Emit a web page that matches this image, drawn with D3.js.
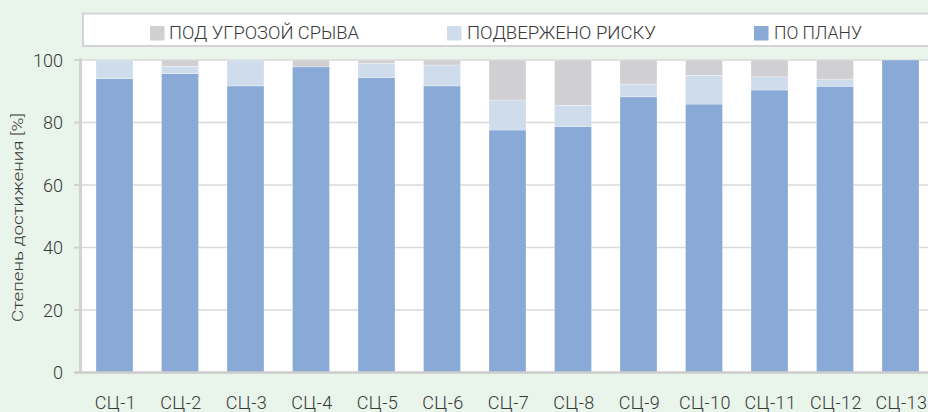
<!DOCTYPE html>
<html><head><meta charset="utf-8">
<script src="https://cdn.jsdelivr.net/npm/d3@7"></script>
<style>html,body{margin:0;padding:0;background:#e9f4ea;}svg{display:block;}text{font-family:Roboto,"Noto Sans",sans-serif;font-weight:300;fill:#383838;}</style>
</head><body><svg id="c" width="928" height="412"></svg>
<script>
const categories = ["СЦ-1","СЦ-2","СЦ-3","СЦ-4","СЦ-5","СЦ-6","СЦ-7","СЦ-8","СЦ-9","СЦ-10","СЦ-11","СЦ-12","СЦ-13"];
const planValues   = [94, 95.6, 91.7, 97.8, 94.4, 91.7, 77.6, 78.7, 88.2, 85.9, 90.4, 91.6, 100];
const riskValues   = [6, 2.4, 8.3, 0, 4.6, 6.7, 9.6, 6.8, 4.1, 9.2, 4.2, 2.3, 0];
const threatValues = [0, 2, 0, 2.2, 1, 1.6, 12.8, 14.5, 7.7, 4.9, 5.4, 6.1, 0];
const yTicks = [0, 20, 40, 60, 80, 100];
const seriesNames = {threat: "ПОД УГРОЗОЙ СРЫВА", risk: "ПОДВЕРЖЕНО РИСКУ", plan: "ПО ПЛАНУ"};
const yTitle = "Степень достижения [%]";

const colors = {plan: "#89aad6", risk: "#cfdcec", threat: "#d0d0d2"};
const svg = d3.select("#c");
const W = 928, H = 412;
svg.append("rect").attr("width", W).attr("height", H).attr("fill", "#e9f4ea");

const x = d3.scaleBand().domain(categories).range([81.75, 933.25]).paddingInner(0.435).paddingOuter(0.2175);
const y = d3.scaleLinear().domain([0, 100]).range([372.5, 60]);

// plot area
svg.append("rect").attr("x", 82).attr("y", y(100)).attr("width", W - 82).attr("height", y(0) - y(100)).attr("fill", "#fff");

// grid
svg.append("g").selectAll("line").data(yTicks.filter(d => d > 0)).join("line")
  .attr("x1", 75).attr("x2", W).attr("y1", d => y(d)).attr("y2", d => y(d))
  .attr("stroke", "#d9d9d9").attr("stroke-width", 1.5);

// bars
const rows = categories.map((c, i) => ({cat: c, plan: planValues[i], risk: riskValues[i], threat: threatValues[i]}));
const stack = d3.stack().keys(["plan", "risk", "threat"])(rows);
svg.append("g").selectAll("g").data(stack).join("g").attr("fill", s => colors[s.key])
  .selectAll("rect").data(s => s.filter(d => d[1] - d[0] > 0)).join("rect")
  .attr("x", d => x(d.data.cat)).attr("width", x.bandwidth())
  .attr("y", d => y(d[1])).attr("height", d => y(d[0]) - y(d[1]))
  .attr("stroke", "#ffffff").attr("stroke-width", 0.4).attr("stroke-opacity", 0.7);

// axes lines
svg.append("line").attr("x1", 80.5).attr("x2", 80.5).attr("y1", y(100) - 2).attr("y2", y(0) + 1)
  .attr("stroke", "#d2d2d2").attr("stroke-width", 3);
svg.append("line").attr("x1", 74).attr("x2", W).attr("y1", y(0)).attr("y2", y(0))
  .attr("stroke", "#cdcdcd").attr("stroke-width", 2.5);

// y axis ticks
const yAxis = d3.axisLeft(y).tickValues(yTicks).tickSize(0).tickPadding(0).tickFormat(d3.format("d"));
const ga = svg.append("g").attr("transform", "translate(63,0)").call(yAxis);
ga.select(".domain").remove();
ga.selectAll("text").attr("font-size", 18).attr("font-family", "Roboto").attr("fill", "#383838").attr("dy", "0.34em");
svg.append("g").selectAll("line").data(yTicks.filter(d => d > 0)).join("line")
  .attr("x1", 74).attr("x2", 80).attr("y1", d => y(d)).attr("y2", d => y(d))
  .attr("stroke", "#d2d2d2").attr("stroke-width", 2);

// x axis labels
const xAxis = d3.axisBottom(x).tickSize(0).tickPadding(0);
const gx = svg.append("g").attr("transform", "translate(1,396)").call(xAxis);
gx.select(".domain").remove();
gx.selectAll("text").attr("font-size", 18).attr("font-family", "Roboto").attr("fill", "#383838")
  .attr("letter-spacing", "0.5px").attr("dy", "0.71em");

// y title
svg.append("text").attr("transform", "translate(22.5,217.5) rotate(-90)")
  .attr("text-anchor", "middle").attr("font-size", 15.5)
  .attr("textLength", 209).attr("lengthAdjust", "spacingAndGlyphs").text(yTitle);

// legend
svg.append("rect").attr("x", 83).attr("y", 13.5).attr("width", 870).attr("height", 32.5)
  .attr("fill", "#fff").attr("stroke", "#d4d4d4").attr("stroke-width", 2);
const legendItems = [
  {key: "threat", sx: 150, tx: 169, tw: 190},
  {key: "risk", sx: 447, tx: 467, tw: 189},
  {key: "plan", sx: 754, tx: 774, tw: 88}
];
const lg = svg.append("g").selectAll("g").data(legendItems).join("g");
lg.append("rect").attr("x", d => d.sx).attr("y", 26).attr("width", 14.5).attr("height", 14.5).attr("fill", d => colors[d.key]);
lg.append("text").attr("x", d => d.tx).attr("y", 38.5).attr("font-size", 18)
  .attr("textLength", d => d.tw).attr("lengthAdjust", "spacingAndGlyphs").text(d => seriesNames[d.key]);
</script></body></html>
